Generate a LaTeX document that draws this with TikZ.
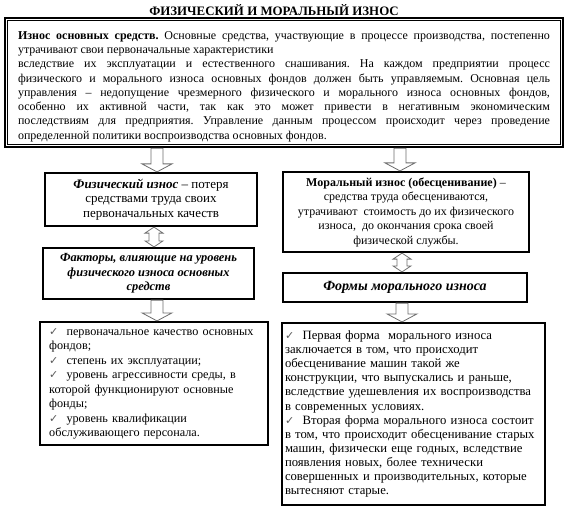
\documentclass[tikz,border=0pt]{standalone}
\usepackage{fontspec}
\setmainfont{Liberation Serif}
\newfontfamily\symfont{DejaVu Sans}
\usepackage{tikz}
\usetikzlibrary{calc}
\usepackage{xcolor}
\definecolor{arrowgray}{RGB}{110,110,110}
\definecolor{tickgray}{RGB}{90,90,90}
\frenchspacing

% small grey check mark in front of list items
\newcommand{\chk}{{\symfont\color{tickgray}\fontsize{11}{11}\selectfont ✓}\ \ }

% hollow block arrows between boxes
\newcommand{\hollowdown}[3]{% x, upper node, lower node
  \coordinate (s) at (#1,0);
  \draw[hollow] ($(s |- #2.south)+(-6,0)$) -- ($(s |- #3.north)+(-6,-8)$)
    -- ($(s |- #3.north)+(-15,-8)$) -- (s |- #3.north)
    -- ($(s |- #3.north)+(15,-8)$) -- ($(s |- #3.north)+(6,-8)$)
    -- ($(s |- #2.south)+(6,0)$) -- cycle;}
\newcommand{\hollowboth}[3]{% x, upper node, lower node
  \coordinate (s) at (#1,0);
  \draw[hollow] (s |- #2.south) -- ($(s |- #2.south)+(9,6)$) -- ($(s |- #2.south)+(5,6)$)
    -- ($(s |- #3.north)+(5,-6)$) -- ($(s |- #3.north)+(9,-6)$) -- (s |- #3.north)
    -- ($(s |- #3.north)+(-9,-6)$) -- ($(s |- #3.north)+(-5,-6)$)
    -- ($(s |- #2.south)+(-5,6)$) -- ($(s |- #2.south)+(-9,6)$) -- cycle;}

\begin{document}
\begin{tikzpicture}[x=1pt, y=-1pt,
    box/.style={draw, line width=2.2pt, fill=white, inner sep=0pt},
    hollow/.style={draw=arrowgray, fill=white, line width=0.8pt, line join=miter},
    every node/.style={font=\fontsize{12}{14.5}\selectfont}]
  \useasboundingbox (0,0) rectangle (568,516);
  % title
  \node[font=\fontsize{12.9}{14}\selectfont\bfseries] (title) at (274,10) {ФИЗИЧЕСКИЙ И МОРАЛЬНЫЙ ИЗНОС};
  % introductory frame
  \node[box, line width=2.5pt, minimum width=558pt, minimum height=129pt] (intro) at (284,82.5) {};
  \draw[line width=0.6pt] ($(intro.north west)+(4,4)$) rectangle ($(intro.south east)+(-4,-4)$);
  \node[anchor=north, inner sep=0pt, text width=532pt, align=justify,
        font=\fontsize{12}{14.3}\selectfont] (introtext) at (284,31)
    {\hyphenpenalty=10000 \textbf{Износ основных средств.} Основные средства, участвующие в процессе производства, постепенно\linebreak
     утрачивают свои первоначальные характеристики\\
     вследствие их эксплуатации и естественного снашивания. На каждом предприятии процесс\linebreak
     физического и морального износа основных фондов должен быть управляемым. Основная цель\linebreak
     управления – недопущение чрезмерного физического и морального износа основных фондов,\linebreak
     особенно их активной части, так как это может привести в негативным экономическим\linebreak
     последствиям для предприятия. Управление данным процессом происходит через проведение\linebreak
     определенной политики воспроизводства основных фондов.};
  % left column: physical wear
  \node[box, minimum width=212pt, minimum height=53pt, align=center,
        font=\fontsize{13}{14.5}\selectfont] (phys) at (151,199.5)
    {\textbf{\textit{Физический износ}} – потеря\\средствами труда своих\\первоначальных качеств};
  \node[box, minimum width=211pt, minimum height=51pt, align=center,
        font=\fontsize{12.4}{14.5}\selectfont\bfseries\itshape] (factors) at (148.5,273.5)
    {Факторы, влияющие на уровень\\физического износа основных\\средств};
  \node[box, minimum width=228pt, minimum height=123pt] (physlist) at (154,383.5) {};
  \node[anchor=north west, inner sep=0pt, text width=212pt, align=left,
        font=\fontsize{12.2}{14.5}\selectfont] (physlisttext) at (49,328)
    {\chk первоначальное качество основных\\фондов;\\\chk степень их эксплуатации;\\
     \chk уровень агрессивности среды, в\\которой функционируют основные\\фонды;\\
     \chk уровень квалификации\\обслуживающего персонала.};
  % right column: moral wear
  \node[box, minimum width=246pt, minimum height=80pt, align=center] (moral) at (406,212)
    {\textbf{Моральный износ (обесценивание)} –\\средства труда обесцениваются,\\
     утрачивают~ стоимость до их физического\\износа,~ до окончания срока своей\\физической службы.};
  \node[box, minimum width=244pt, minimum height=29pt, align=center,
        font=\fontsize{14}{15}\selectfont\bfseries\itshape] (forms) at (405,287.5)
    {Формы морального износа};
  \node[box, minimum width=263pt, minimum height=182pt, inner xsep=3pt, text width=257pt, align=left,
        font=\fontsize{12.7}{14.1}\selectfont] (formslist) at (413.5,414)
    {\chk Первая форма~ морального износа\\заключается в том, что происходит\\обесценивание машин такой же\\
     конструкции, что выпускались и раньше,\\вследствие удешевления их воспроизводства\\в современных условиях.\\
     \chk Вторая форма морального износа состоит\\в том, что происходит обесценивание старых\\
     машин, физически еще годных, вследствие\\появления новых, более технически\\
     совершенных и производительных, которые\\вытесняют старые.};
  % block arrows
  \hollowdown{157}{intro}{phys}
  \hollowboth{154}{phys}{factors}
  \hollowdown{157}{factors}{physlist}
  \hollowdown{400}{intro}{moral}
  \hollowboth{402}{moral}{forms}
  \hollowdown{402}{forms}{formslist}
\end{tikzpicture}
\end{document}
